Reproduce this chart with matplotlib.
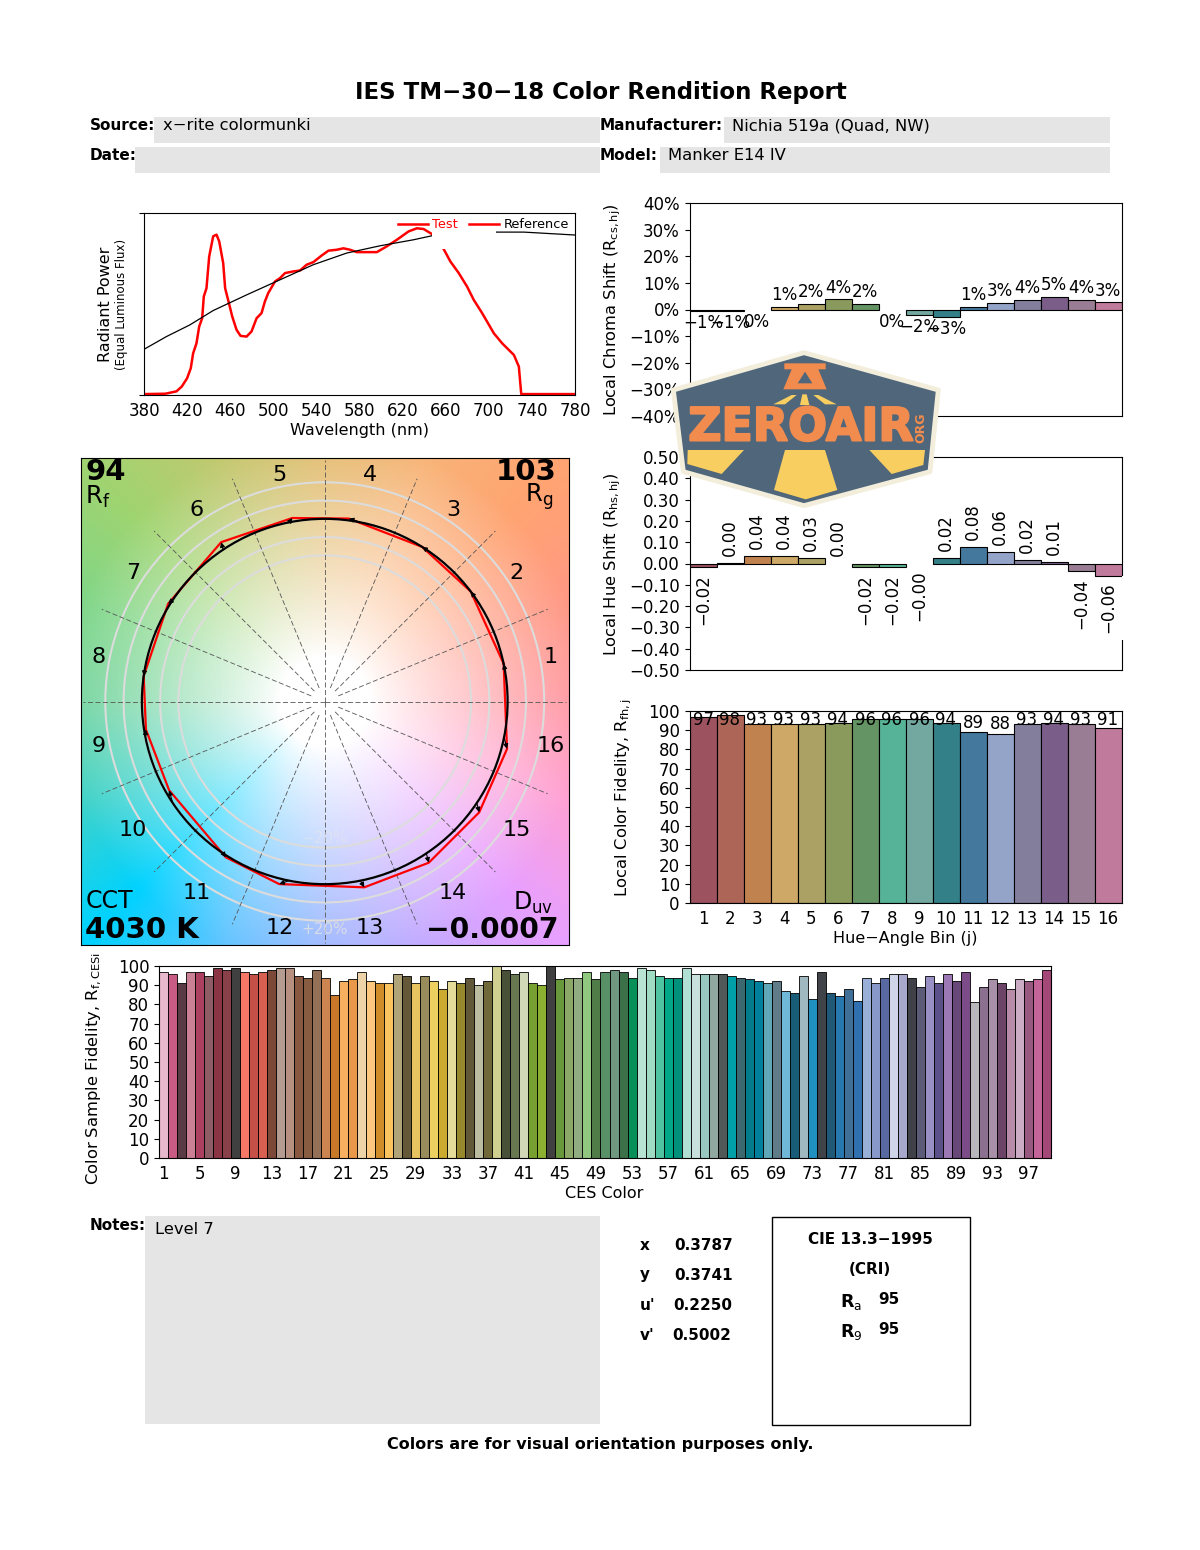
import numpy as np
import matplotlib
matplotlib.use("Agg")
import matplotlib.pyplot as plt
import matplotlib.patheffects as pe
from matplotlib.patches import Rectangle, Polygon, Circle

W, H = 1200, 1550

# spectrum
test_nm = [380, 399.8, 410.1, 415, 420, 423.4, 425.6, 428.7, 431.2, 434, 435.5, 438, 440.5, 444.2, 447.3,
           449.8, 453.5, 455.3, 458.8, 461.9, 465.9, 469.6, 475.2, 479.8, 484.5, 489.1, 492.2, 495.3,
           501.6, 506.2, 510.9, 518.6, 524.8, 531, 537.2, 545, 551.2, 558.9, 565.1, 571.3, 577.5, 596.1,
           605.4, 614.7, 625.6, 633.3, 639.5, 647.3, 658.1, 664.3, 672.1, 679.8, 686, 693.8, 704.7,
           712.4, 723.3, 727.9, 730.1, 780]
test_power = [.005, .007, .02, .046, .092, .147, .229, .284, .376, .422, .541, .587, .761, .872, .881,
              .844, .725, .587, .505, .431, .358, .325, .321, .349, .422, .45, .514, .56,
              .624, .642, .67, .679, .684, .716, .73, .767, .793, .798, .806, .798, .785, .785,
              .817, .853, .899, .916, .912, .884, .802, .734, .67, .596, .523, .45, .339,
              .284, .22, .156, .005, .005]
ref_nm = [380, 400.8, 422.5, 444.2, 475.2, 506.2, 537.2, 568.2, 599.2, 630.2, 647.3, 706.2, 732.6, 780]
ref_power = [.251, .321, .385, .464, .55, .633, .716, .78, .82, .853, .875, .895, .895, .879]

bins = list(range(1, 17))
chroma_shift = [-0.7, -0.7, -0.1, 0.9, 2.0, 3.8, 2.0, -0.1, -2.0, -2.8, 0.9, 2.6, 3.6, 4.8, 3.6, 2.7]
hue_shift = [-0.016, 0.004, 0.036, 0.036, 0.028, 0.001, -0.016, -0.016, -0.001, 0.024, 0.076, 0.056,
             0.018, 0.005, -0.035, -0.057]
rf_bin = [97, 98, 93, 93, 93, 94, 96, 96, 96, 94, 89, 88, 93, 94, 93, 91]
bin_colors = ["#9c525f", "#ad6558", "#c08350", "#cda866", "#aba164", "#8a9a5c", "#659464", "#57b397",
              "#72a89f", "#348088", "#44789c", "#94a3c8", "#847e9d", "#7b5d8a", "#997d94", "#c07a9b"]

rf_ces = [97, 96, 91, 97, 97, 95, 99, 98, 99, 97, 96, 97, 98, 99, 99, 95, 94, 98, 94, 85,
          92, 93, 97, 92, 91, 91, 96, 95, 91, 95, 92, 88, 92, 91, 94, 90, 92, 100, 98, 96,
          97, 91, 90, 100, 93, 94, 94, 97, 93, 97, 98, 97, 94, 99, 98, 95, 94, 94, 99, 96,
          96, 96, 96, 95, 94, 93, 92, 91, 92, 87, 86, 95, 83, 97, 86, 84.5, 88, 82, 94, 91,
          94, 96, 96, 94, 89, 95, 91, 96, 92, 97, 81, 89, 93, 91, 88, 93, 92, 93, 98]
ces_colors = ["#e8b8cc", "#c85c84", "#5a3a44", "#cc8095", "#ac4060", "#8e5c64", "#8a3444", "#8a4048", "#404040",
              "#f87868", "#c45048", "#d86050", "#7c4838", "#b49c90", "#b89080", "#885840", "#885c40", "#947058",
              "#cc8450", "#c87828", "#f8b060", "#e89848", "#ecd4a8", "#fcc880", "#d08c28", "#fcc460", "#b0a478",
              "#645838", "#e8c460", "#988c5c", "#ecd060", "#ccaa30", "#e4dc98", "#98882c", "#605838", "#bcbca0",
              "#706838", "#d0d090", "#485038", "#687850", "#d0d8b8", "#78a030", "#8cb030", "#404040", "#68983c",
              "#8ca868", "#90ac80", "#90c880", "#507c48", "#589068", "#709880", "#3c7048", "#089058", "#b8e4d4",
              "#a0dcc4", "#50c4a0", "#00a888", "#00907c", "#b0e0d4", "#c8e0dc", "#98c8c0", "#90a8a0", "#505858",
              "#00a0a8", "#3c6870", "#007c8c", "#00809c", "#60a8b8", "#607c88", "#70b8d8", "#185c78", "#a0b8c0",
              "#2090c0", "#404448", "#205878", "#2878b0", "#407098", "#3070b0", "#98b0d8", "#8898c8", "#5868a0",
              "#d0d4e8", "#a8a8cc", "#404048", "#5c5c78", "#9890c4", "#5c5088", "#9c78b4", "#684878", "#7c4c88",
              "#b8b8bc", "#8c7090", "#a890a8", "#6c4468", "#b88ca8", "#ccacc4", "#985880", "#c46498", "#a44878"]

# colour vector graphic: bin centre angles of the test polygon and its radius
test_angle = [11.9, 37, 57.8, 82.5, 100, 123, 148, 172, 188.9, 209.7, 237.6, 256, 282, 302.8, 324.3, 345.4]
test_radius = [1.00, 1.00, 1.00, 1.01, 1.02, 1.04, 1.01, 1.00, 0.99, 0.98, 1.01, 1.03, 1.04, 1.05, 1.04, 1.03]
ring_radius = [0.8, 0.9, 1.0, 1.1, 1.2]
wheel_angle = [0, 22.5, 45, 67.5, 90, 112.5, 135, 157.5, 180, 202.5, 225, 247.5, 270, 292.5, 315, 337.5, 360]
wheel_colors = ["#ff96a0", "#ff9884", "#ffa472", "#f8b478", "#e4bc70", "#c4c870", "#a0d470", "#80d688", "#72d49e",
                "#40d2c8", "#00d2ff", "#62c4ff", "#9cb6ff", "#c4aaff", "#e8a0ff", "#ffa0d4", "#ff96a0"]

plt.rcParams["font.family"] = "DejaVu Sans"
fig = plt.figure(figsize=(W / 100, H / 100), dpi=100)


def pax(x0, y0, x1, y1):
    return fig.add_axes([x0 / W, 1 - y1 / H, (x1 - x0) / W, (y1 - y0) / H])


def minus(s):
    return s.replace("-", "\u2212")


# page layer: grey boxes and all loose text
page = fig.add_axes([0, 0, 1, 1], zorder=0)
page.set_xlim(0, W)
page.set_ylim(H, 0)
page.axis("off")

for x0, y0, x1, y1 in [(154, 117, 600, 143), (135, 147, 600, 173), (724, 117, 1110, 143),
                       (660, 147, 1110, 173), (145, 1216, 600, 1424)]:
    page.add_patch(Rectangle((x0, y0), x1 - x0, y1 - y0, fc="#e5e5e5", ec="none"))
page.add_patch(Rectangle((771.5, 1216.5), 198, 208, fc="white", ec="black", lw=1))

page.text(600.5, 92, "IES TM\u221230\u221218 Color Rendition Report", ha="center", va="center", fontsize=16.5, fontweight="bold")
for x, y, s in [(90, 126, "Source:"), (90, 156, "Date:"), (600, 126, "Manufacturer:"), (600, 156, "Model:"),
                (90, 1225, "Notes:")]:
    page.text(x, y, s, ha="left", va="center", fontsize=11, fontweight="bold")
for x, y, s in [(163, 126, "x\u2212rite colormunki"), (732, 126, "Nichia 519a (Quad, NW)"), (668, 156, "Manker E14 IV"),
                (155, 1230, "Level 7")]:
    page.text(x, y, s, ha="left", va="center", fontsize=11.8)

for s, x, y in [("x", 640, 1245), ("y", 640, 1275), ("u'", 640, 1305), ("v'", 640, 1335)]:
    page.text(x, y, s, ha="left", va="center", fontsize=11, fontweight="bold")
for s, x, y in [("0.3787", 674, 1245), ("0.3741", 674, 1275), ("0.2250", 673, 1305), ("0.5002", 672, 1335)]:
    page.text(x, y, s, ha="left", va="center", fontsize=11, fontweight="bold")
page.text(870, 1240, "CIE 13.3\u22121995", ha="center", va="center", fontsize=11, fontweight="bold")
page.text(870, 1270, "(CRI)", ha="center", va="center", fontsize=11, fontweight="bold")
page.text(840, 1302, r"$\mathbf{R}_{\mathrm{a}}$", ha="left", va="center", fontsize=12.5)
page.text(840, 1332, r"$\mathbf{R}_{\mathrm{9}}$", ha="left", va="center", fontsize=12.5)
page.text(878, 1300, "95", ha="left", va="center", fontsize=11, fontweight="bold")
page.text(878, 1330, "95", ha="left", va="center", fontsize=11, fontweight="bold")
page.text(600.5, 1444, "Colors are for visual orientation purposes only.", ha="center", va="center", fontsize=11.5, fontweight="bold")

# axis labels
page.text(105, 304, "Radiant Power", rotation=90, ha="center", va="center", fontsize=11.5)
page.text(122, 304, "(Equal Luminous Flux)", rotation=90, ha="center", va="center", fontsize=8.5)
page.text(359, 431, "Wavelength (nm)", ha="center", va="center", fontsize=11.5)
page.text(613, 310, r"Local Chroma Shift (R$_{\mathrm{cs,hj}}$)", rotation=90, ha="center", va="center", fontsize=11.7)
page.text(613, 564, r"Local Hue Shift (R$_{\mathrm{hs,hj}}$)", rotation=90, ha="center", va="center", fontsize=11.8)
page.text(624, 798, r"Local Color Fidelity, R$_{\mathrm{fh,j}}$", rotation=90, ha="center", va="center", fontsize=11.8)
page.text(905, 939, "Hue\u2212Angle Bin (j)", ha="center", va="center", fontsize=11.5)
page.text(94, 1069, r"Color Sample Fidelity, R$_{\mathrm{f,CESi}}$", rotation=90, ha="center", va="center", fontsize=11.8)
page.text(604, 1194, "CES Color", ha="center", va="center", fontsize=11.5)

# spectrum
ax = pax(144, 213, 575, 395)
ax.plot(test_nm, test_power, color="red", lw=1.8, zorder=2)
ax.plot(ref_nm, ref_power, color="black", lw=0.9, zorder=3)
ax.set_xlim(380, 780)
ax.set_ylim(0, 1)
ax.set_xticks(range(380, 781, 40))
ax.set_yticks([0, 1])
ax.set_yticklabels([])
ax.tick_params(axis="x", length=0, pad=5, labelsize=12)
ax.tick_params(axis="y", length=3.5)
# white patch behind the legend text hides part of both curves
ax.add_patch(Rectangle((647.5, 0.8), 59, 0.18, fc="white", ec="none", zorder=4))
tr = ax.transAxes
ax.plot([0.589, 0.66], [0.937, 0.937], color="red", lw=1.8, transform=tr, zorder=5)
ax.plot([0.753, 0.823], [0.937, 0.937], color="red", lw=1.8, transform=tr, zorder=5)
ax.text(0.669, 0.937, "Test", color="red", fontsize=9.3, ha="left", va="center", transform=tr, zorder=5)
ax.text(0.986, 0.937, "Reference", color="black", fontsize=9.3, ha="right", va="center", transform=tr, zorder=5)

# colour vector graphic
ax = pax(81, 458, 568.5, 945)
lim = 1.333
n = 500
xx, yy = np.meshgrid(np.linspace(-lim, lim, n), np.linspace(-lim, lim, n))
rr = np.hypot(xx, yy)
aa = np.degrees(np.arctan2(yy, xx)) % 360
rgb = np.array([matplotlib.colors.to_rgb(c) for c in wheel_colors])
outer = np.dstack([np.interp(aa, wheel_angle, rgb[:, i]) for i in range(3)])
fade = (np.clip((rr - 0.25) / 1.2, 0, 1) ** 0.85)[..., None]
ax.imshow(1 - fade * (1 - outer), origin="lower", extent=[-lim, lim, -lim, lim], aspect="auto", zorder=0)
for r in ring_radius:
    ax.add_patch(Circle((0, 0), r, fc="none", ec="#dcdcdc", lw=1.5, zorder=1))
for k in range(16):
    t = np.radians(22.5 * k)
    start = 0.0 if k % 4 == 0 else 0.08
    ax.plot([start * np.cos(t), 1.32 * np.cos(t)], [start * np.sin(t), 1.32 * np.sin(t)],
            color="#555555", lw=0.6, ls=(0, (6, 3)), zorder=2)
ang = np.radians(test_angle)
tx = np.array(test_radius) * np.cos(ang)
ty = np.array(test_radius) * np.sin(ang)
ax.plot(np.r_[tx, tx[0]], np.r_[ty, ty[0]], color="red", lw=1.6, zorder=3)
ax.add_patch(Circle((0, 0), 1.0, fc="none", ec="black", lw=1.6, zorder=4))
for k in range(16):
    t = np.radians(11.25 + 22.5 * k)
    ax.annotate("", xy=(tx[k], ty[k]), xytext=(np.cos(t), np.sin(t)),
                arrowprops=dict(arrowstyle="-|>", color="black", lw=0.8, mutation_scale=7, shrinkA=0, shrinkB=0),
                zorder=5)
    ax.text(1.262 * np.cos(t), 1.262 * np.sin(t), str(bins[k]), ha="center", va="center", fontsize=16, zorder=6)
ax.set_xlim(-lim, lim)
ax.set_ylim(-lim, lim)
ax.set_xticks([])
ax.set_yticks([])
ax.text(-1.31, 1.254, "94", fontsize=21, fontweight="bold", ha="left", va="center")
ax.text(-1.31, 1.12, r"R$_{\mathrm{f}}$", fontsize=17.5, ha="left", va="center")
ax.text(1.27, 1.254, "103", fontsize=21, fontweight="bold", ha="right", va="center")
ax.text(1.25, 1.12, r"R$_{\mathrm{g}}$", fontsize=17.5, ha="right", va="center")
ax.text(-1.31, -1.09, "CCT", fontsize=17, ha="left", va="center")
ax.text(-1.31, -1.25, "4030 K", fontsize=21, fontweight="bold", ha="left", va="center")
ax.text(1.25, -1.10, r"D$_{\mathrm{uv}}$", fontsize=17, ha="right", va="center")
ax.text(1.28, -1.25, "\u22120.0007", fontsize=20.3, fontweight="bold", ha="right", va="center")
ax.text(0, -1.25, "+20%", color="#e2e2e2", fontsize=11, ha="center", va="center", alpha=0.8, zorder=3)
ax.text(0, -0.75, "\u221220%", color="#e8e8e8", fontsize=11, ha="center", va="center", alpha=0.5, zorder=3)

# local chroma shift
ax = pax(689.5, 203, 1121.5, 416)
for j, v, c in zip(bins, chroma_shift, bin_colors):
    if abs(v) >= 0.25:
        ax.bar(j, v, width=1, color=c, edgecolor="black", lw=0.8)
    offset = 2 if v >= 0 else -2
    ax.annotate(minus(f"{round(v)}%"), (j, v), xytext=(0, offset), textcoords="offset points", ha="center",
                va="bottom" if v >= 0 else "top", fontsize=12)
ax.set_xlim(0.5, 16.5)
ax.set_ylim(-40, 40)
ax.set_xticks([])
ticks = list(range(-40, 41, 10))
ax.set_yticks(ticks)
ax.set_yticklabels([minus(f"{t}%") for t in ticks])
ax.tick_params(labelsize=12)

# local hue shift
ax = pax(689.5, 457, 1121.5, 670)
for j, v, c in zip(bins, hue_shift, bin_colors):
    if abs(v) >= 0.002:
        ax.bar(j, v, width=1, color=c, edgecolor="black", lw=0.8, zorder=4)
    offset = 5 if v >= 0 else -5
    ax.annotate(minus(f"{v:.2f}"), (j, v), xytext=(0, offset), textcoords="offset points", ha="center",
                va="bottom" if v >= 0 else "top", rotation=90, fontsize=12, zorder=3,
                bbox=dict(fc="white", ec="none", pad=5 if j == 16 else 1))
ax.set_xlim(0.5, 16.5)
ax.set_ylim(-0.5, 0.5)
ax.set_xticks([])
ticks = np.arange(-5, 6) / 10
ax.set_yticks(ticks)
ax.set_yticklabels([minus(f"{t:.2f}") for t in ticks])
ax.tick_params(labelsize=12)

# local colour fidelity, labels sit on the bar tops but stay under the frame
ax = pax(689.5, 711, 1121.5, 903)
ax.bar(bins, rf_bin, width=1, color=bin_colors, edgecolor="black", lw=0.8)
for j, v in zip(bins, rf_bin):
    ax.text(j, min(v + 5, 95.5), str(v), ha="center", va="center", fontsize=12)
ax.set_xlim(0.5, 16.5)
ax.set_ylim(0, 100)
ax.set_xticks(bins)
ax.set_yticks(range(0, 101, 10))
ax.tick_params(axis="x", length=0, pad=5)
ax.tick_params(labelsize=12)

# colour sample fidelity
ax = pax(159, 966, 1051, 1158)
ces = list(range(1, 100))
ax.bar(ces, rf_ces, width=1, color=ces_colors, edgecolor="black", lw=0.6)
ax.set_xlim(0.5, 99.5)
ax.set_ylim(0, 100)
ax.set_xticks(ces[::4])
ax.set_yticks(range(0, 101, 10))
ax.tick_params(axis="x", length=0, pad=5)
ax.tick_params(labelsize=12)

# site logo laid over the report
logo = fig.add_axes([0, 0, 1, 1], zorder=10)
logo.set_xlim(0, W)
logo.set_ylim(H, 0)
logo.axis("off")
logo.patch.set_alpha(0)


def shape(pts, **kw):
    logo.add_patch(Polygon([(600 + x / 3, 340 + y / 3) for x, y in pts], closed=True, **kw))


shape([(612, 38), (1015, 150), (990, 395), (612, 497), (250, 395), (220, 150)], fc="#50667a", ec="#f2eedb", lw=3.5, joinstyle="round")
shape([(553, 70), (677, 70), (677, 88), (655, 88), (680, 148), (550, 148), (575, 88), (553, 88)], fc="#f28c4e", ec="none")
shape([(615, 95), (637, 130), (593, 130)], fc="#50667a", ec="none")
shape([(520, 193), (575, 165), (590, 165), (555, 193)], fc="#f8ce60", ec="none")
shape([(600, 195), (607, 163), (620, 163), (628, 195)], fc="#f8ce60", ec="none")
shape([(640, 165), (655, 165), (710, 193), (675, 193)], fc="#f8ce60", ec="none")
shape([(263, 330), (432, 330), (365, 402), (262, 372)], fc="#f8ce60", ec="none")
shape([(555, 330), (675, 330), (712, 450), (617, 478), (522, 450)], fc="#f8ce60", ec="none")
shape([(808, 330), (975, 330), (970, 375), (875, 402)], fc="#f8ce60", ec="none")
logo.text(801, 428, "ZEROAIR", color="#f28c4e", fontsize=33, fontweight="bold", ha="center", va="center",
          path_effects=[pe.withStroke(linewidth=1.5, foreground="#f28c4e")])
logo.text(921, 428, "ORG", color="#f28c4e", fontsize=9, fontweight="bold", rotation=90, ha="center", va="center")

fig.savefig("out.png", dpi=100)
